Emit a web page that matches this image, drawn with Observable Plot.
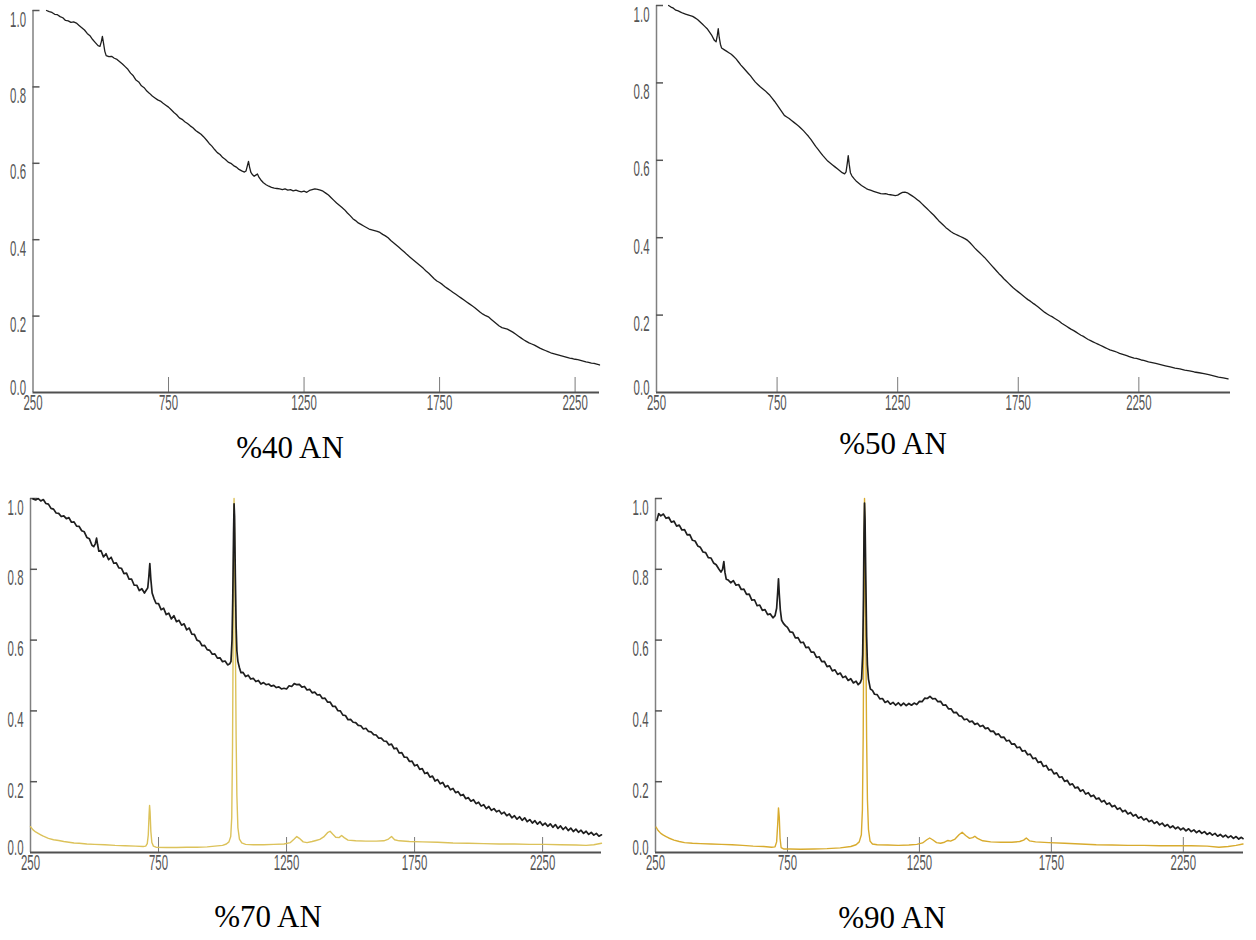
<!DOCTYPE html>
<html>
<head>
<meta charset="utf-8">
<script src="https://cdn.jsdelivr.net/npm/d3@7"></script>
<script src="https://cdn.jsdelivr.net/npm/@observablehq/plot@0.6"></script>
<style>
  body { margin: 0; background: #fff; }
  #page { position: relative; width: 1256px; height: 940px; overflow: hidden; background: #fff; }
  .panel { position: absolute; }
  .caption {
    position: absolute; width: 240px; text-align: center;
    font-family: "Liberation Serif", "Times New Roman", serif;
    font-size: 31px; line-height: 34px; color: #000; white-space: nowrap;
  }
</style>
</head>
<body>
<div id="page"></div>
<script>
// Axis ticks shared by all four spectra
const xTicks = [250, 750, 1250, 1750, 2250];
const yTicks = [0, 0.2, 0.4, 0.6, 0.8, 1.0];

// Panel titles
const captions = ["%40 AN", "%50 AN", "%70 AN", "%90 AN"];

// Normalised spectra: [wavenumber, intensity]
const an40 = [[300,1.000],[310,0.997],[320,0.995],[330,0.990],[340,0.989],[350,0.984],[360,0.981],[370,0.974],[380,0.973],[390,0.969],[400,0.970],[410,0.967],[420,0.961],[430,0.955],[440,0.949],[450,0.940],[460,0.934],[470,0.924],[480,0.916],[490,0.908],[497,0.906],[502,0.918],[506,0.932],[510,0.915],[515,0.893],[520,0.882],[530,0.879],[540,0.880],[550,0.875],[560,0.872],[570,0.866],[580,0.860],[590,0.853],[600,0.846],[610,0.836],[620,0.829],[630,0.818],[640,0.813],[650,0.803],[660,0.798],[670,0.789],[680,0.783],[690,0.776],[700,0.771],[710,0.766],[720,0.763],[730,0.757],[740,0.752],[750,0.747],[760,0.740],[770,0.733],[780,0.727],[790,0.719],[800,0.715],[810,0.709],[820,0.704],[830,0.698],[840,0.693],[850,0.686],[860,0.681],[870,0.676],[880,0.669],[890,0.661],[900,0.652],[910,0.645],[920,0.636],[930,0.628],[940,0.623],[950,0.615],[960,0.610],[970,0.603],[980,0.600],[990,0.594],[1000,0.590],[1010,0.584],[1020,0.580],[1030,0.577],[1036,0.580],[1041,0.594],[1045,0.605],[1049,0.590],[1054,0.576],[1060,0.570],[1066,0.566],[1072,0.569],[1078,0.572],[1084,0.563],[1090,0.557],[1100,0.549],[1110,0.544],[1120,0.540],[1130,0.537],[1140,0.535],[1150,0.534],[1160,0.533],[1170,0.531],[1180,0.533],[1190,0.530],[1200,0.531],[1210,0.528],[1220,0.530],[1230,0.527],[1240,0.525],[1250,0.527],[1260,0.524],[1270,0.529],[1280,0.531],[1290,0.533],[1300,0.532],[1310,0.530],[1320,0.527],[1330,0.522],[1340,0.517],[1350,0.510],[1360,0.503],[1370,0.496],[1380,0.490],[1390,0.484],[1400,0.478],[1410,0.470],[1420,0.463],[1430,0.455],[1440,0.450],[1450,0.444],[1460,0.440],[1470,0.436],[1480,0.432],[1490,0.428],[1500,0.426],[1510,0.424],[1520,0.422],[1530,0.419],[1540,0.414],[1550,0.410],[1560,0.405],[1570,0.398],[1580,0.392],[1590,0.386],[1600,0.380],[1610,0.374],[1620,0.368],[1630,0.361],[1640,0.355],[1650,0.349],[1660,0.343],[1670,0.337],[1680,0.331],[1690,0.325],[1700,0.318],[1710,0.312],[1720,0.305],[1730,0.298],[1740,0.292],[1750,0.288],[1760,0.283],[1770,0.277],[1780,0.272],[1790,0.267],[1800,0.262],[1810,0.257],[1820,0.252],[1830,0.247],[1840,0.242],[1850,0.237],[1860,0.232],[1870,0.227],[1880,0.222],[1890,0.216],[1900,0.210],[1910,0.205],[1920,0.201],[1930,0.198],[1940,0.192],[1950,0.186],[1960,0.180],[1970,0.174],[1980,0.170],[1990,0.168],[2000,0.166],[2010,0.162],[2020,0.158],[2030,0.153],[2040,0.148],[2050,0.143],[2060,0.138],[2070,0.134],[2080,0.130],[2090,0.127],[2100,0.124],[2110,0.120],[2120,0.116],[2130,0.113],[2140,0.110],[2150,0.107],[2160,0.104],[2170,0.102],[2180,0.100],[2190,0.098],[2200,0.096],[2210,0.094],[2220,0.092],[2230,0.090],[2240,0.089],[2250,0.087],[2260,0.086],[2270,0.084],[2280,0.082],[2290,0.080],[2300,0.079],[2310,0.077],[2320,0.076],[2330,0.074],[2340,0.072]];

const an50 = [[300,1.000],[310,0.996],[320,0.993],[330,0.988],[340,0.986],[350,0.983],[360,0.980],[370,0.978],[380,0.976],[390,0.974],[400,0.972],[410,0.968],[420,0.964],[430,0.958],[440,0.952],[450,0.946],[460,0.940],[470,0.931],[480,0.922],[490,0.910],[497,0.906],[502,0.922],[506,0.940],[510,0.918],[515,0.900],[520,0.890],[530,0.886],[540,0.882],[550,0.878],[560,0.874],[570,0.868],[580,0.862],[590,0.854],[600,0.846],[610,0.839],[620,0.832],[630,0.825],[640,0.818],[650,0.810],[660,0.802],[670,0.796],[680,0.790],[690,0.785],[700,0.780],[710,0.774],[720,0.768],[730,0.760],[740,0.752],[750,0.743],[760,0.734],[770,0.725],[780,0.716],[790,0.712],[800,0.708],[810,0.703],[820,0.698],[830,0.693],[840,0.688],[850,0.682],[860,0.676],[870,0.669],[880,0.662],[890,0.654],[900,0.645],[910,0.636],[920,0.628],[930,0.620],[940,0.612],[950,0.605],[960,0.598],[970,0.593],[980,0.588],[990,0.583],[1000,0.578],[1010,0.573],[1020,0.568],[1030,0.565],[1036,0.570],[1041,0.592],[1045,0.612],[1049,0.590],[1054,0.568],[1060,0.560],[1070,0.552],[1080,0.545],[1090,0.540],[1100,0.535],[1110,0.531],[1120,0.527],[1130,0.524],[1140,0.522],[1150,0.520],[1160,0.518],[1170,0.516],[1180,0.514],[1190,0.513],[1200,0.514],[1210,0.512],[1220,0.511],[1230,0.510],[1240,0.509],[1250,0.510],[1260,0.514],[1270,0.517],[1280,0.518],[1290,0.516],[1300,0.512],[1310,0.508],[1320,0.504],[1330,0.499],[1340,0.494],[1350,0.488],[1360,0.482],[1370,0.476],[1380,0.470],[1390,0.464],[1400,0.458],[1410,0.451],[1420,0.444],[1430,0.438],[1440,0.432],[1450,0.426],[1460,0.421],[1470,0.416],[1480,0.412],[1490,0.409],[1500,0.406],[1510,0.403],[1520,0.400],[1530,0.397],[1540,0.393],[1550,0.387],[1560,0.380],[1570,0.373],[1580,0.367],[1590,0.361],[1600,0.355],[1610,0.349],[1620,0.342],[1630,0.335],[1640,0.328],[1650,0.321],[1660,0.314],[1670,0.307],[1680,0.301],[1690,0.294],[1700,0.288],[1710,0.282],[1720,0.276],[1730,0.270],[1740,0.265],[1750,0.260],[1760,0.255],[1770,0.250],[1780,0.245],[1790,0.240],[1800,0.236],[1810,0.231],[1820,0.227],[1830,0.222],[1840,0.217],[1850,0.212],[1860,0.207],[1870,0.203],[1880,0.199],[1890,0.196],[1900,0.192],[1910,0.188],[1920,0.184],[1930,0.179],[1940,0.175],[1950,0.171],[1960,0.167],[1970,0.163],[1980,0.160],[1990,0.156],[2000,0.152],[2010,0.148],[2020,0.145],[2030,0.141],[2040,0.137],[2050,0.134],[2060,0.131],[2070,0.128],[2080,0.125],[2090,0.122],[2100,0.119],[2110,0.116],[2120,0.113],[2130,0.110],[2140,0.108],[2150,0.106],[2160,0.104],[2170,0.101],[2180,0.099],[2190,0.097],[2200,0.095],[2210,0.093],[2220,0.091],[2230,0.089],[2240,0.088],[2250,0.086],[2260,0.084],[2270,0.083],[2280,0.081],[2290,0.079],[2300,0.078],[2320,0.075],[2340,0.072],[2360,0.069],[2380,0.066],[2400,0.063],[2420,0.061],[2440,0.058],[2460,0.056],[2480,0.053],[2500,0.051],[2520,0.049],[2540,0.046],[2560,0.043],[2580,0.040],[2600,0.038],[2620,0.035]];

const an70 = [[260,0.999],[270,0.996],[280,1.000],[290,0.993],[300,0.997],[310,0.986],[320,0.984],[330,0.972],[340,0.970],[350,0.959],[360,0.958],[370,0.949],[380,0.951],[390,0.943],[400,0.946],[410,0.933],[420,0.934],[430,0.922],[440,0.921],[450,0.909],[460,0.906],[470,0.890],[480,0.886],[490,0.868],[497,0.864],[503,0.872],[508,0.888],[512,0.870],[517,0.851],[525,0.853],[535,0.835],[545,0.844],[555,0.827],[565,0.834],[575,0.817],[585,0.818],[595,0.804],[605,0.803],[615,0.788],[625,0.789],[635,0.772],[645,0.772],[655,0.755],[665,0.755],[675,0.740],[685,0.745],[695,0.733],[703,0.742],[708,0.748],[712,0.778],[716,0.816],[720,0.772],[725,0.733],[732,0.718],[740,0.704],[750,0.703],[760,0.686],[770,0.690],[780,0.672],[790,0.676],[800,0.660],[810,0.669],[820,0.652],[830,0.656],[840,0.642],[850,0.646],[860,0.629],[870,0.634],[880,0.617],[890,0.616],[900,0.600],[910,0.597],[920,0.584],[930,0.585],[940,0.573],[950,0.571],[960,0.560],[970,0.561],[980,0.549],[990,0.550],[1000,0.539],[1010,0.541],[1020,0.530],[1028,0.533],[1033,0.540],[1037,0.600],[1040,0.720],[1043,0.900],[1045,0.985],[1047,0.950],[1050,0.780],[1053,0.640],[1056,0.570],[1060,0.540],[1066,0.522],[1072,0.508],[1080,0.509],[1090,0.497],[1100,0.501],[1110,0.490],[1120,0.492],[1130,0.483],[1140,0.486],[1150,0.476],[1160,0.480],[1170,0.474],[1180,0.476],[1190,0.470],[1200,0.472],[1210,0.466],[1220,0.468],[1230,0.462],[1240,0.464],[1250,0.462],[1260,0.471],[1270,0.469],[1280,0.477],[1290,0.474],[1300,0.475],[1310,0.467],[1320,0.469],[1330,0.459],[1340,0.461],[1350,0.451],[1360,0.453],[1370,0.445],[1380,0.446],[1390,0.435],[1400,0.436],[1410,0.425],[1420,0.425],[1430,0.413],[1440,0.413],[1450,0.401],[1460,0.400],[1470,0.388],[1480,0.387],[1490,0.375],[1500,0.376],[1510,0.368],[1520,0.367],[1530,0.359],[1540,0.358],[1550,0.349],[1560,0.351],[1570,0.342],[1580,0.341],[1590,0.333],[1600,0.332],[1610,0.323],[1620,0.323],[1630,0.315],[1640,0.314],[1650,0.304],[1660,0.306],[1670,0.293],[1680,0.295],[1690,0.281],[1700,0.282],[1710,0.269],[1720,0.269],[1730,0.257],[1740,0.258],[1750,0.245],[1760,0.248],[1770,0.235],[1780,0.237],[1790,0.223],[1800,0.226],[1810,0.213],[1820,0.216],[1830,0.202],[1840,0.206],[1850,0.194],[1860,0.198],[1870,0.185],[1880,0.189],[1890,0.177],[1900,0.181],[1910,0.169],[1920,0.172],[1930,0.161],[1940,0.164],[1950,0.152],[1960,0.155],[1970,0.145],[1980,0.149],[1990,0.138],[2000,0.142],[2010,0.131],[2020,0.135],[2030,0.124],[2040,0.130],[2050,0.119],[2060,0.124],[2070,0.115],[2080,0.119],[2090,0.109],[2100,0.114],[2110,0.104],[2120,0.109],[2130,0.098],[2140,0.104],[2150,0.094],[2160,0.101],[2170,0.091],[2180,0.098],[2190,0.087],[2200,0.093],[2210,0.083],[2220,0.090],[2230,0.080],[2240,0.087],[2250,0.077],[2260,0.083],[2270,0.074],[2280,0.081],[2290,0.071],[2300,0.079],[2310,0.068],[2320,0.075],[2330,0.065],[2340,0.072],[2350,0.062],[2360,0.069],[2370,0.059],[2380,0.066],[2390,0.057],[2400,0.063],[2410,0.054],[2420,0.060],[2430,0.051],[2440,0.057],[2450,0.049],[2460,0.054],[2470,0.046],[2480,0.050]];

const raman70 = [[250,0.073],[260,0.064],[270,0.058],[280,0.054],[290,0.050],[300,0.046],[320,0.040],[340,0.036],[360,0.034],[380,0.031],[400,0.029],[420,0.027],[440,0.026],[470,0.024],[500,0.023],[540,0.022],[580,0.020],[620,0.019],[660,0.018],[690,0.017],[700,0.018],[706,0.025],[710,0.050],[713,0.105],[715,0.133],[717,0.115],[720,0.060],[724,0.028],[730,0.018],[740,0.015],[780,0.014],[820,0.014],[860,0.015],[900,0.015],[940,0.016],[970,0.018],[1000,0.020],[1015,0.024],[1025,0.030],[1032,0.045],[1036,0.100],[1039,0.300],[1041,0.550],[1043,0.820],[1045,1.000],[1047,0.900],[1050,0.600],[1053,0.330],[1056,0.160],[1060,0.070],[1066,0.038],[1075,0.027],[1090,0.023],[1120,0.022],[1160,0.022],[1200,0.023],[1240,0.024],[1265,0.028],[1280,0.038],[1290,0.045],[1300,0.040],[1315,0.030],[1330,0.028],[1350,0.031],[1365,0.034],[1380,0.037],[1395,0.044],[1410,0.056],[1420,0.060],[1430,0.052],[1442,0.043],[1455,0.042],[1465,0.048],[1475,0.042],[1490,0.035],[1520,0.033],[1560,0.032],[1600,0.032],[1630,0.033],[1648,0.038],[1660,0.045],[1672,0.036],[1690,0.033],[1730,0.031],[1780,0.030],[1840,0.029],[1900,0.027],[1960,0.026],[2020,0.025],[2080,0.024],[2140,0.024],[2200,0.023],[2260,0.023],[2320,0.022],[2380,0.021],[2420,0.020],[2450,0.022],[2480,0.026]];

const an90 = [[255,0.938],[262,0.957],[270,0.951],[280,0.956],[290,0.944],[300,0.947],[310,0.933],[320,0.936],[330,0.922],[340,0.925],[350,0.911],[360,0.912],[370,0.897],[380,0.898],[390,0.882],[400,0.880],[410,0.866],[420,0.862],[430,0.849],[440,0.847],[450,0.833],[460,0.832],[470,0.818],[480,0.813],[490,0.801],[498,0.792],[504,0.800],[509,0.822],[513,0.792],[518,0.772],[525,0.770],[535,0.762],[545,0.768],[555,0.755],[565,0.757],[575,0.743],[585,0.744],[595,0.729],[605,0.730],[615,0.713],[625,0.714],[635,0.697],[645,0.699],[655,0.684],[665,0.686],[675,0.672],[685,0.674],[695,0.663],[703,0.669],[709,0.690],[713,0.735],[716,0.773],[719,0.730],[723,0.685],[728,0.656],[734,0.648],[742,0.641],[750,0.636],[760,0.623],[770,0.622],[780,0.606],[790,0.607],[800,0.593],[810,0.594],[820,0.579],[830,0.580],[840,0.566],[850,0.566],[860,0.551],[870,0.553],[880,0.539],[890,0.540],[900,0.525],[910,0.527],[920,0.513],[930,0.516],[940,0.503],[950,0.507],[960,0.494],[970,0.498],[980,0.486],[990,0.491],[1000,0.479],[1010,0.484],[1018,0.474],[1026,0.480],[1031,0.490],[1035,0.560],[1038,0.720],[1040,0.900],[1042,0.987],[1044,0.940],[1047,0.770],[1050,0.610],[1053,0.530],[1057,0.490],[1064,0.462],[1072,0.458],[1080,0.447],[1090,0.446],[1100,0.434],[1110,0.435],[1120,0.424],[1130,0.428],[1140,0.419],[1150,0.424],[1160,0.416],[1170,0.423],[1180,0.415],[1190,0.422],[1200,0.415],[1210,0.421],[1220,0.416],[1230,0.422],[1240,0.418],[1250,0.427],[1260,0.426],[1270,0.436],[1280,0.435],[1290,0.441],[1300,0.434],[1310,0.435],[1320,0.426],[1330,0.427],[1340,0.416],[1350,0.417],[1360,0.406],[1370,0.406],[1380,0.395],[1390,0.396],[1400,0.386],[1410,0.385],[1420,0.375],[1430,0.377],[1440,0.369],[1450,0.371],[1460,0.362],[1470,0.365],[1480,0.356],[1490,0.359],[1500,0.350],[1510,0.352],[1520,0.342],[1530,0.343],[1540,0.333],[1550,0.335],[1560,0.325],[1570,0.326],[1580,0.315],[1590,0.317],[1600,0.306],[1610,0.307],[1620,0.296],[1630,0.298],[1640,0.286],[1650,0.288],[1660,0.276],[1670,0.278],[1680,0.265],[1690,0.267],[1700,0.254],[1710,0.257],[1720,0.243],[1730,0.246],[1740,0.233],[1750,0.235],[1760,0.222],[1770,0.225],[1780,0.212],[1790,0.214],[1800,0.201],[1810,0.204],[1820,0.191],[1830,0.194],[1840,0.182],[1850,0.185],[1860,0.173],[1870,0.177],[1880,0.165],[1890,0.169],[1900,0.158],[1910,0.162],[1920,0.151],[1930,0.154],[1940,0.143],[1950,0.147],[1960,0.136],[1970,0.140],[1980,0.129],[1990,0.133],[2000,0.122],[2010,0.126],[2020,0.115],[2030,0.119],[2040,0.109],[2050,0.113],[2060,0.103],[2070,0.107],[2080,0.097],[2090,0.101],[2100,0.092],[2110,0.096],[2120,0.087],[2130,0.091],[2140,0.082],[2150,0.087],[2160,0.078],[2170,0.083],[2180,0.074],[2190,0.079],[2200,0.070],[2210,0.075],[2220,0.067],[2230,0.072],[2240,0.064],[2250,0.069],[2260,0.061],[2270,0.067],[2280,0.059],[2290,0.064],[2300,0.056],[2310,0.062],[2320,0.054],[2330,0.059],[2340,0.051],[2350,0.056],[2360,0.049],[2370,0.054],[2380,0.046],[2390,0.051],[2400,0.044],[2410,0.049],[2420,0.042],[2430,0.047],[2440,0.040],[2450,0.045],[2460,0.038],[2470,0.043],[2476,0.039]];

const raman90 = [[252,0.072],[260,0.062],[270,0.054],[280,0.049],[290,0.045],[300,0.041],[320,0.035],[340,0.031],[360,0.028],[390,0.026],[420,0.025],[460,0.024],[500,0.023],[540,0.022],[580,0.020],[620,0.018],[660,0.017],[690,0.015],[703,0.016],[709,0.030],[713,0.080],[716,0.126],[719,0.100],[722,0.040],[726,0.014],[735,0.010],[760,0.010],[800,0.009],[850,0.010],[900,0.011],[950,0.013],[990,0.017],[1010,0.022],[1022,0.030],[1030,0.050],[1034,0.120],[1037,0.330],[1039,0.600],[1041,0.880],[1042,1.000],[1044,0.900],[1047,0.600],[1050,0.320],[1053,0.150],[1057,0.065],[1063,0.032],[1072,0.024],[1090,0.022],[1130,0.021],[1170,0.020],[1210,0.021],[1240,0.023],[1262,0.027],[1278,0.036],[1289,0.041],[1300,0.036],[1315,0.028],[1330,0.026],[1345,0.029],[1358,0.034],[1368,0.032],[1385,0.038],[1400,0.050],[1412,0.057],[1425,0.048],[1440,0.040],[1452,0.042],[1460,0.046],[1470,0.040],[1490,0.033],[1520,0.030],[1560,0.029],[1600,0.029],[1630,0.031],[1645,0.035],[1655,0.041],[1667,0.033],[1690,0.030],[1740,0.028],[1800,0.026],[1860,0.024],[1920,0.022],[1980,0.021],[2040,0.020],[2100,0.020],[2160,0.019],[2220,0.019],[2280,0.019],[2340,0.018],[2385,0.015],[2420,0.017],[2450,0.020],[2476,0.024]];

// Layout of the 2x2 grid
const W = 628, H = 430;
const panels = [
  { spectrum: an40, raman: null, xEnd: 2340, left: 0,   top: 0,   ml: 32.5, mr: 29, mt: 10, mb: 38, cap: captions[0], capX: 290, capY: 448, ink: 1.3 },
  { spectrum: an50, raman: null, xEnd: 2630, left: 628, top: 0,   ml: 28,   mr: 26, mt: 5,  mb: 38, cap: captions[1], capX: 893, capY: 444, ink: 1.3 },
  { spectrum: an70, raman: raman70, ramanColor: "#dcc25a", xEnd: 2480, left: 0,   top: 470, ml: 30, mr: 27, mt: 28, mb: 48, cap: captions[2], capX: 268, capY: 917, ink: 1.7 },
  { spectrum: an90, raman: raman90, ramanColor: "#d8ab2e", xEnd: 2478, left: 628, top: 470, ml: 27, mr: 13, mt: 28, mb: 48, cap: captions[3], capX: 892, capY: 918, ink: 1.7 }
];

const labelFill = "#555";
const labelFont = 22;
const labelSqueeze = 0.52;

// Narrow the tick labels horizontally around their anchor point
function condenseLabels(svg, k) {
  svg.querySelectorAll('[aria-label$="tick label"] text').forEach(t => {
    let tr = t.getAttribute("transform") || "";
    const x = t.getAttribute("x");
    if (x !== null) {
      tr += ` translate(${parseFloat(x) || 0},0)`;
      t.removeAttribute("x");
    }
    t.setAttribute("transform", `${tr} scale(${k},1)`);
  });
}

const page = document.getElementById("page");

for (const p of panels) {
  const fw = W - p.ml - p.mr, fh = H - p.mt - p.mb;
  const marks = [
    // vertical axis line
    Plot.ruleX([250], { stroke: "#808080", strokeWidth: 1.5 }),
    // inward y ticks
    Plot.tickY(yTicks.slice(1), { y: d => d, stroke: "#555", strokeWidth: 1.5, insetRight: fw - 7 }),
    // upward x ticks
    Plot.tickX(xTicks.slice(1), { x: d => d, stroke: "#7a7a7a", strokeWidth: 1, insetTop: fh - 15 }),
    // tick labels
    Plot.axisY(yTicks.slice(1), { tickSize: 0, tickPadding: 7, dy: 9, fontSize: labelFont, fill: labelFill, tickFormat: d => d.toFixed(1), label: null }),
    Plot.axisY([0], { tickSize: 0, tickPadding: 7, dy: -5, fontSize: labelFont, fill: labelFill, tickFormat: d => d.toFixed(1), label: null }),
    Plot.axisX(xTicks, { tickSize: 0, tickPadding: 2, fontSize: labelFont, fill: labelFill, tickFormat: d => `${d}`, label: null })
  ];
  if (p.raman) {
    marks.push(Plot.line(p.raman, { x: d => d[0], y: d => d[1], stroke: p.ramanColor, strokeWidth: 1.4 }));
  }
  marks.push(Plot.line(p.spectrum, { x: d => d[0], y: d => d[1], stroke: "#1e1e1e", strokeWidth: p.ink }));
  marks.push(Plot.ruleY([0], { stroke: "#505050", strokeWidth: 2 }));

  const svg = Plot.plot({
    width: W, height: H,
    marginLeft: p.ml, marginRight: p.mr, marginTop: p.mt, marginBottom: p.mb,
    x: { domain: [250, p.xEnd] },
    y: { domain: [0, 1] },
    style: { fontFamily: "Liberation Sans, Arial, sans-serif", background: "transparent", overflow: "visible" },
    marks
  });
  condenseLabels(svg, labelSqueeze);
  svg.classList.add("panel");
  svg.style.left = p.left + "px";
  svg.style.top = p.top + "px";
  page.appendChild(svg);

  const cap = document.createElement("div");
  cap.className = "caption";
  cap.textContent = p.cap;
  cap.style.left = (p.capX - 120) + "px";
  cap.style.top = (p.capY - 17) + "px";
  page.appendChild(cap);
}
</script>
</body>
</html>
